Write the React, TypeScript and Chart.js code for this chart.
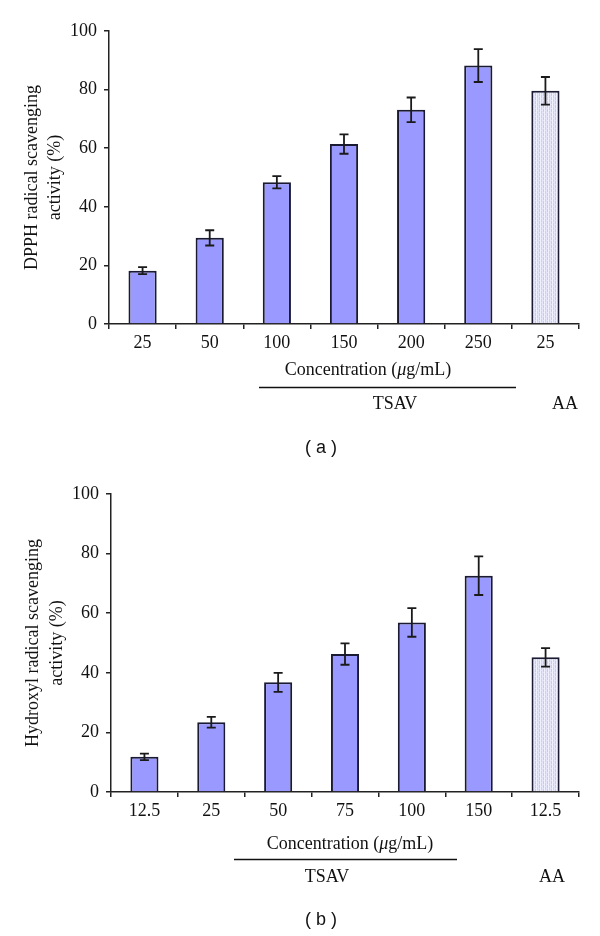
import React, { useEffect, useRef } from "react";
import { Chart, registerables } from "chart.js";

Chart.register(...registerables);

const categoriesA = ["25", "50", "100", "150", "200", "250", "25"];
const valuesA = [18.2, 29.4, 48.4, 61.4, 73.1, 88.2, 79.6];
const errorsA = [1.2, 2.6, 2.1, 3.3, 4.2, 5.6, 4.7];

const categoriesB = ["12.5", "25", "50", "75", "100", "150", "12.5"];
const valuesB = [11.8, 23.4, 36.8, 46.3, 56.9, 72.6, 45.2];
const errorsB = [1.1, 1.8, 3.2, 3.6, 4.8, 6.5, 3.1];

const yMin = 0;
const yMax = 100;
const yStep = 20;

const yTitleA = ["DPPH radical scavenging", "activity (%)"];
const yTitleB = ["Hydroxyl radical scavenging", "activity (%)"];
const xTitle = ["Concentration (", "\u03bc", "g/mL)"];
const groupLabels = ["TSAV", "AA"];
const panelLabels = ["( a )", "( b )"];

const SERIF = '"Liberation Serif", "Times New Roman", serif';
const SANS = '"Liberation Sans", Arial, sans-serif';

type Layout = {
  padTop: number;
  yWidth: number;
  xHeight: number;
  padRight: number;
  yTitleX: number[];
  concX: number;
  concY: number;
  lineX1: number;
  lineX2: number;
  lineY: number;
  tsavX: number;
  aaX: number;
  groupY: number;
  panelX: number;
  panelY: number;
};

const layoutA: Layout = {
  padTop: 31,
  yWidth: 109,
  xHeight: 144,
  padRight: 21,
  yTitleX: [32, 55],
  concX: 368,
  concY: 370,
  lineX1: 259,
  lineX2: 516,
  lineY: 387.5,
  tsavX: 395,
  aaX: 565,
  groupY: 404,
  panelX: 321,
  panelY: 448,
};

const layoutB: Layout = {
  padTop: 26,
  yWidth: 111,
  xHeight: 144,
  padRight: 21,
  yTitleX: [33, 57],
  concX: 350,
  concY: 376,
  lineX1: 234,
  lineX2: 457,
  lineY: 391.5,
  tsavX: 327,
  aaX: 552,
  groupY: 409,
  panelX: 321,
  panelY: 452,
};

function makePattern(): CanvasPattern | string {
  const c = document.createElement("canvas");
  c.width = 4;
  c.height = 4;
  const g = c.getContext("2d");
  if (!g) return "#e2e2f8";
  const cols = ["#f1f1fd", "#cfcff4", "#e6e6fa", "#c8c8f2"];
  for (let i = 0; i < 4; i++) {
    g.fillStyle = cols[i];
    g.fillRect(i, 0, 1, 4);
  }
  g.fillStyle = "#e0e0f8";
  g.fillRect(1, 2, 1, 1);
  g.fillRect(3, 0, 1, 1);
  return g.createPattern(c, "repeat") || "#e2e2f8";
}

type PanelProps = {
  categories: string[];
  values: number[];
  errors: number[];
  yTitle: string[];
  panelLabel: string;
  layout: Layout;
};

function Panel({ categories, values, errors, yTitle, panelLabel, layout }: PanelProps) {
  const ref = useRef<HTMLCanvasElement | null>(null);

  useEffect(() => {
    if (!ref.current) return;
    const pattern = makePattern();
    const colors = categories.map((_, i) => (i === categories.length - 1 ? pattern : "#9999ff"));

    const errorBars = {
      id: "errorBars",
      afterDatasetsDraw(chart: any) {
        const meta = chart.getDatasetMeta(0);
        const ys = chart.scales.y;
        const ctx = chart.ctx;
        ctx.save();
        ctx.strokeStyle = "#1a1a1a";
        ctx.lineWidth = 1.8;
        meta.data.forEach((bar: any, i: number) => {
          const x = bar.x;
          const yHi = ys.getPixelForValue(values[i] + errors[i]);
          const yLo = ys.getPixelForValue(values[i] - errors[i]);
          const cap = 4.5;
          ctx.beginPath();
          ctx.moveTo(x, yHi);
          ctx.lineTo(x, yLo);
          ctx.moveTo(x - cap, yHi);
          ctx.lineTo(x + cap, yHi);
          ctx.moveTo(x - cap, yLo);
          ctx.lineTo(x + cap, yLo);
          ctx.stroke();
        });
        ctx.restore();
      },
    };

    const annotations = {
      id: "annotations",
      afterDraw(chart: any) {
        const ctx = chart.ctx;
        const area = chart.chartArea;
        ctx.save();
        ctx.fillStyle = "#111";
        ctx.textAlign = "center";
        ctx.textBaseline = "middle";
        ctx.font = `18px ${SERIF}`;
        const cy = (area.top + area.bottom) / 2;
        yTitle.forEach((line, i) => {
          ctx.save();
          ctx.translate(layout.yTitleX[i], cy);
          ctx.rotate(-Math.PI / 2);
          ctx.fillText(line, 0, 0);
          ctx.restore();
        });

        const normal = `18px ${SERIF}`;
        const italic = `italic 18px ${SERIF}`;
        ctx.font = normal;
        const w0 = ctx.measureText(xTitle[0]).width;
        const w2 = ctx.measureText(xTitle[2]).width;
        ctx.font = italic;
        const w1 = ctx.measureText(xTitle[1]).width;
        const total = w0 + w1 + w2;
        let x = layout.concX - total / 2;
        ctx.textAlign = "left";
        ctx.font = normal;
        ctx.fillText(xTitle[0], x, layout.concY);
        x += w0;
        ctx.font = italic;
        ctx.fillText(xTitle[1], x, layout.concY);
        x += w1;
        ctx.font = normal;
        ctx.fillText(xTitle[2], x, layout.concY);

        ctx.strokeStyle = "#111";
        ctx.lineWidth = 1.5;
        ctx.beginPath();
        ctx.moveTo(layout.lineX1, layout.lineY);
        ctx.lineTo(layout.lineX2, layout.lineY);
        ctx.stroke();

        ctx.textAlign = "center";
        ctx.fillText(groupLabels[0], layout.tsavX, layout.groupY);
        ctx.fillText(groupLabels[1], layout.aaX, layout.groupY);

        ctx.font = `18px ${SANS}`;
        ctx.fillText(panelLabel, layout.panelX, layout.panelY);
        ctx.restore();
      },
    };

    const chart = new Chart(ref.current, {
      type: "bar",
      data: {
        labels: categories,
        datasets: [
          {
            data: values,
            backgroundColor: colors as any,
            borderColor: "#1a1a33",
            borderWidth: 2,
            barPercentage: 0.42,
            categoryPercentage: 1,
          },
        ],
      },
      options: {
        responsive: false,
        animation: false,
        layout: {
          padding: { top: layout.padTop, right: layout.padRight, left: 0, bottom: 0 },
        },
        plugins: {
          legend: { display: false },
          tooltip: { enabled: false },
          title: { display: false },
        },
        scales: {
          x: {
            offset: true,
            grid: {
              display: true,
              offset: true,
              drawOnChartArea: false,
              drawTicks: true,
              tickLength: 5,
              color: "#222",
              lineWidth: 1.5,
            },
            border: { display: true, color: "#222", width: 1.5 },
            ticks: {
              color: "#111",
              font: { family: SERIF, size: 18 },
              padding: 3,
              maxRotation: 0,
              autoSkip: false,
            },
            afterFit(scale: any) {
              scale.height = layout.xHeight;
            },
          },
          y: {
            min: yMin,
            max: yMax,
            grid: {
              display: true,
              drawOnChartArea: false,
              drawTicks: true,
              tickLength: 5,
              color: "#222",
              lineWidth: 1.5,
            },
            border: { display: true, color: "#222", width: 1.5 },
            ticks: {
              stepSize: yStep,
              color: "#111",
              font: { family: SERIF, size: 18 },
              padding: 7,
            },
            afterFit(scale: any) {
              scale.width = layout.yWidth;
            },
          },
        },
      },
      plugins: [errorBars, annotations],
    });
    return () => chart.destroy();
  }, [categories, values, errors, yTitle, panelLabel, layout]);

  return <canvas ref={ref} width={600} height={468} style={{ display: "block", width: 600, height: 468 }} />;
}

export default function App() {
  useEffect(() => {
    document.body.style.margin = "0";
    document.body.style.background = "#ffffff";
  }, []);
  return (
    <div style={{ width: 600, height: 936, background: "#fff" }}>
      <Panel
        categories={categoriesA}
        values={valuesA}
        errors={errorsA}
        yTitle={yTitleA}
        panelLabel={panelLabels[0]}
        layout={layoutA}
      />
      <Panel
        categories={categoriesB}
        values={valuesB}
        errors={errorsB}
        yTitle={yTitleB}
        panelLabel={panelLabels[1]}
        layout={layoutB}
      />
    </div>
  );
}
